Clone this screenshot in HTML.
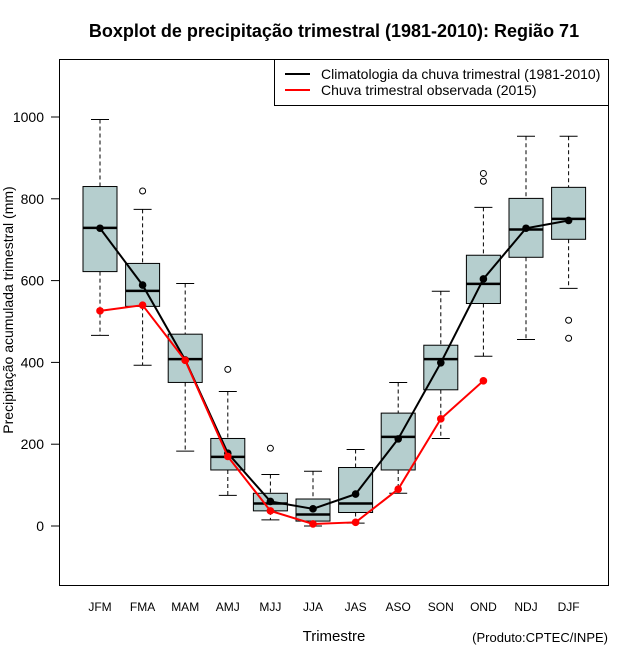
<!DOCTYPE html>
<html><head><meta charset="utf-8"><style>
body{margin:0;background:#fff}
svg{display:block;font-family:"Liberation Sans",sans-serif}
</style></head><body>
<svg width="640" height="660" viewBox="0 0 640 660">
<text x="334" y="37" text-anchor="middle" font-size="18" font-weight="bold">Boxplot de precipitação trimestral (1981-2010): Região 71</text>
<rect x="59.5" y="59.5" width="549" height="526" fill="none" stroke="#000"/>
<g id="yaxis"></g>
<g id="xaxis"></g>
<g id="boxes"></g>
<g id="lines"></g>
<text x="13" y="310" transform="rotate(-90 13 310)" text-anchor="middle" font-size="14">Precipitação acumulada trimestral (mm)</text>
<text x="334" y="641" text-anchor="middle" font-size="15">Trimestre</text>
<text x="608" y="642" text-anchor="end" font-size="13">(Produto:CPTEC/INPE)</text>
<g>
<rect x="274.5" y="59.5" width="334" height="46" fill="#fff" stroke="#000"/>
<line x1="285" y1="74" x2="310" y2="74" stroke="#000" stroke-width="2"/>
<text x="321" y="79" font-size="14">Climatologia da chuva trimestral (1981-2010)</text>
<line x1="285" y1="90" x2="310" y2="90" stroke="#f00" stroke-width="2"/>
<text x="321" y="95" font-size="14">Chuva trimestral observada (2015)</text>
</g>
</svg>
<script>
const categories=["JFM","FMA","MAM","AMJ","MJJ","JJA","JAS","ASO","SON","OND","NDJ","DJF"];
const whiskerLow=[466,393,183,75,15,0,7,80,214,415,456,581];
const q1=[622,537,351,137,37,12,33,137,333,544,657,701];
const medians=[729,575,408,169,55,28,55,218,408,592,725,751];
const q3=[830,642,469,214,80,66,143,276,442,662,801,828];
const whiskerHigh=[994,774,593,329,126,134,187,351,574,779,953,953];
const outliers=[[],[819],[],[383],[190],[],[],[],[],[862,843],[],[503,459]];
const climatology=[728,589,406,178,60,42,78,213,399,604,728,747];
const observed=[526,540,405,170,37,5,9,90,262,355];
const yTicks=[0,200,400,600,800,1000];
const NS="http://www.w3.org/2000/svg";
function y(v){return 526-v*0.409;}
function x(i){return 100+i*42.6;}
function mk(tag,attrs,parent,txt){const e=document.createElementNS(NS,tag);for(const k in attrs)e.setAttribute(k,attrs[k]);if(txt!==undefined)e.textContent=txt;parent.appendChild(e);return e;}
const ya=document.getElementById('yaxis'),xa=document.getElementById('xaxis'),bx=document.getElementById('boxes'),ln=document.getElementById('lines');
yTicks.forEach(t=>{
 const l=mk('line',{x1:51,x2:59.5,y1:y(t),y2:y(t),stroke:'#000'},ya);
 
 
 const tx=mk('text',{x:44,y:y(t)+5,'text-anchor':'end','font-size':14},ya,String(t));
 
 
});
categories.forEach((c,i)=>{
 const tx=mk('text',{x:x(i),y:611,'text-anchor':'middle','font-size':12},xa,c);
 
 
 const g=mk('g',{},bx);
 
 
 const cx=x(i);
 mk('line',{x1:cx,x2:cx,y1:y(whiskerHigh[i]),y2:y(q3[i]),stroke:'#000','stroke-dasharray':'4,3'},g);
 mk('line',{x1:cx,x2:cx,y1:y(q1[i]),y2:y(whiskerLow[i]),stroke:'#000','stroke-dasharray':'4,3'},g);
 mk('line',{x1:cx-9,x2:cx+9,y1:y(whiskerHigh[i]),y2:y(whiskerHigh[i]),stroke:'#000'},g);
 mk('line',{x1:cx-9,x2:cx+9,y1:y(whiskerLow[i]),y2:y(whiskerLow[i]),stroke:'#000'},g);
 mk('rect',{x:cx-17,y:y(q3[i]),width:34,height:y(q1[i])-y(q3[i]),fill:'#b5cece',stroke:'#000'},g);
 mk('line',{x1:cx-17,x2:cx+17,y1:y(medians[i]),y2:y(medians[i]),stroke:'#000','stroke-width':2.5},g);
 outliers[i].forEach(o=>{mk('circle',{cx:cx,cy:y(o),r:3,fill:'none',stroke:'#000'},g);});
});
function series(vals,color,name){
 const g=mk('g',{},ln);
 
 
 mk('polyline',{points:vals.map((v,i)=>x(i)+','+y(v)).join(' '),fill:'none',stroke:color,'stroke-width':2},g);
 vals.forEach((v,i)=>{const p=mk('circle',{cx:x(i),cy:y(v),r:3.8,fill:color},g);
  
  });
}
series(climatology,'#000','climatology-series');
series(observed,'#f00','observed-series');
</script>
</body></html>
